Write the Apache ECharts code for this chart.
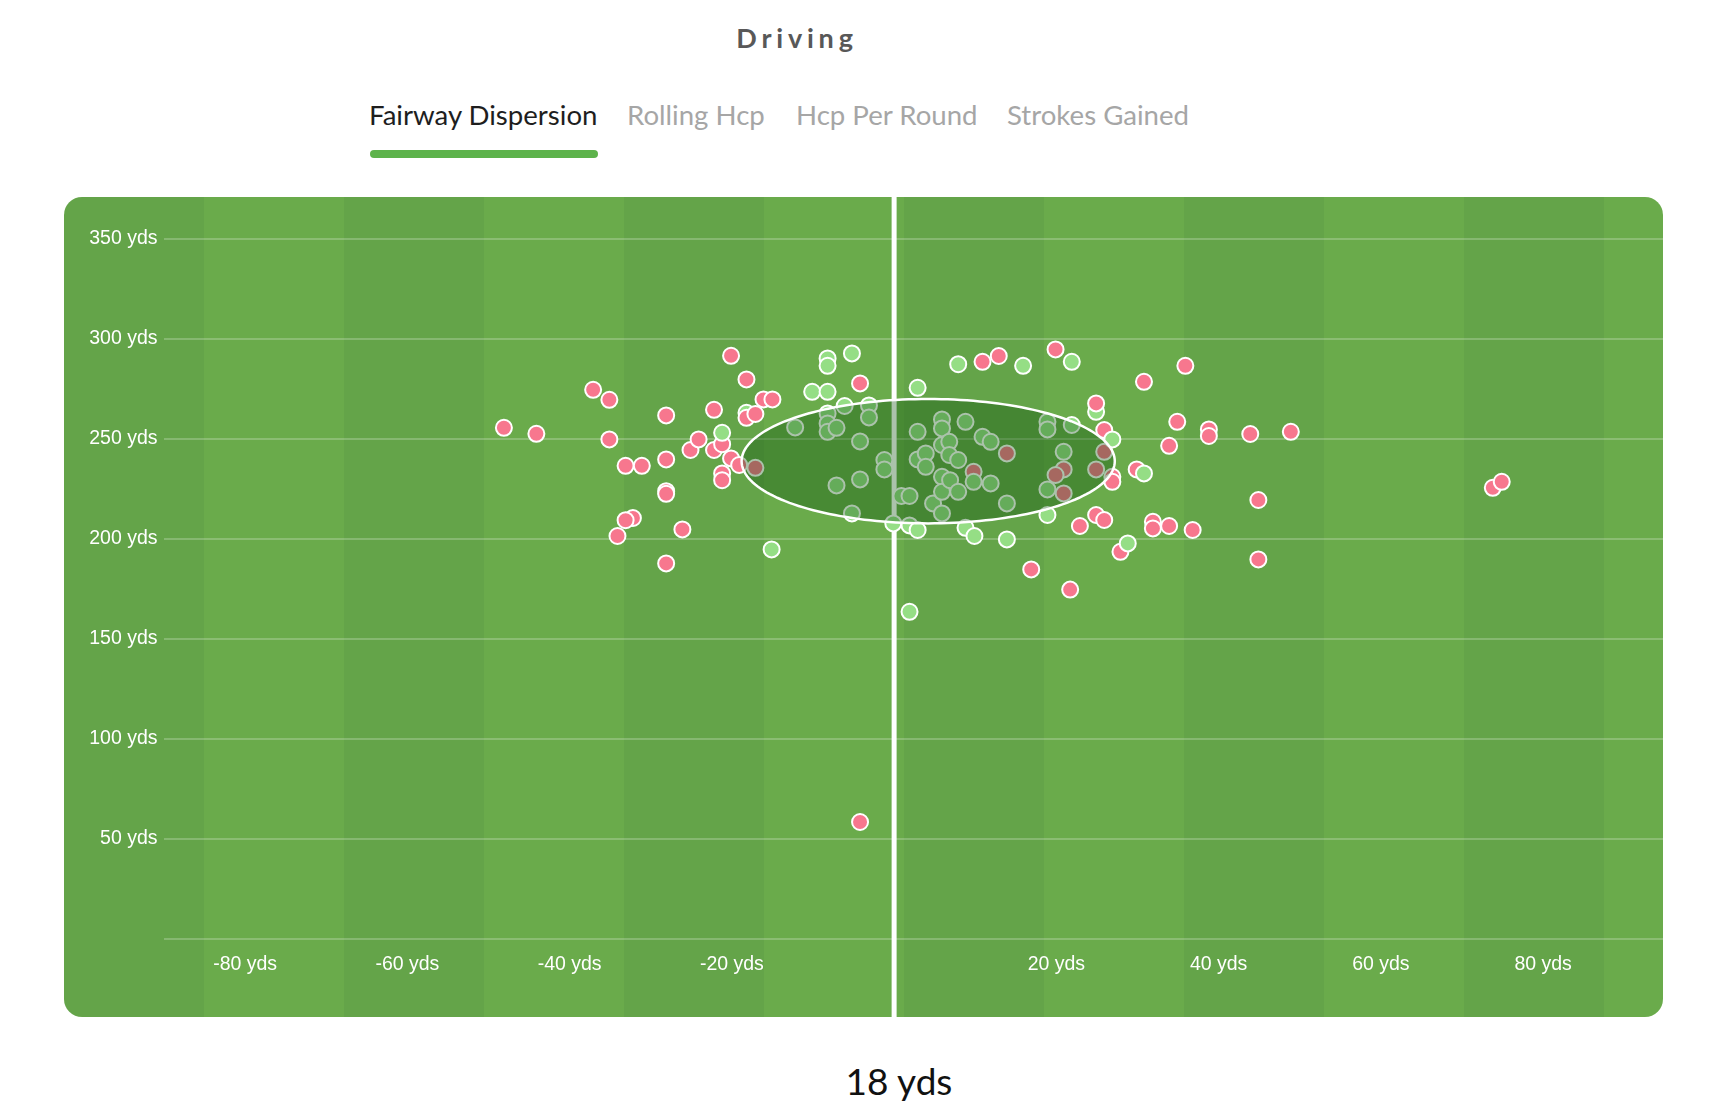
<!DOCTYPE html>
<html>
<head>
<meta charset="utf-8">
<script src="https://cdn.jsdelivr.net/npm/echarts@6/dist/echarts.min.js"></script>
<style>
  html, body { margin:0; padding:0; background:#fff; width:1730px; height:1120px; overflow:hidden; }
  .txt { position:absolute; white-space:nowrap; font-family:Lato, "Noto Sans", sans-serif; line-height:1; }
  #title { left:797px; top:23.5px; transform:translateX(-50%); font-size:27px; font-weight:700; color:#585858; letter-spacing:4.8px; }
  .tab { top:100.6px; font-size:27.6px; color:#a6a6a6; }
  #tab0 { left:369px; color:#1e1e1e; }
  #tab1 { left:627px; }
  #tab2 { left:796px; }
  #tab3 { left:1007px; }
  #underline { position:absolute; left:370px; top:150px; width:228px; height:8px; border-radius:4px; background:#5db34b; }
  #card { position:absolute; left:64px; top:197px; width:1599px; height:820px; border-radius:18px;
    background:repeating-linear-gradient(90deg, #64a449 0px, #64a449 140px, #6aab4b 140px, #6aab4b 280px); }
  #summary { left:899px; top:1062px; transform:translateX(-50%); font-size:37px; color:#111; }
  #chart { position:absolute; left:0; top:0; width:1730px; height:1120px; }
</style>
</head>
<body>
<div id="title" class="txt">Driving</div>
<div id="tab0" class="txt tab">Fairway Dispersion</div>
<div id="tab1" class="txt tab">Rolling Hcp</div>
<div id="tab2" class="txt tab">Hcp Per Round</div>
<div id="tab3" class="txt tab">Strokes Gained</div>
<div id="underline"></div>
<div id="card"></div>
<div id="summary" class="txt">18 yds</div>
<div id="chart"></div>
<script>
// Tick labels
const xTicks = [-80, -60, -40, -20, 20, 40, 60, 80];
const yTicks = [50, 100, 150, 200, 250, 300, 350];

// Shots that missed the fairway: [lateral yds, distance yds]
const missedShots = [
  [-48.1,255.6],[-44.1,252.6],[-37.1,274.6],[-35.1,269.6],[-35.1,249.8],[-33.1,236.6],[-31.1,236.6],
  [-32.2,210.5],[-33.1,209.4],[-34.1,201.5],[-28.1,261.8],[-28.1,239.8],[-28.1,223.9],[-28.1,222.6],
  [-28.1,187.8],[-26.1,204.8],[-25.1,244.5],[-24.1,249.8],[-22.2,264.6],[-22.2,244.5],[-21.2,247.4],
  [-21.2,232.8],[-21.2,229.4],[-20.1,291.6],[-20.1,240.3],[-19.1,237.0],[-18.2,279.8],
  [-17.1,235.6],[-16.1,269.8],[-15.0,269.8],[-4.2,277.8],[-4.2,58.5],[10.9,288.6],[12.9,291.5],
  [13.9,242.8],[9.8,233.6],[16.9,184.8],[19.9,294.8],[20.9,234.8],[19.9,232.0],[20.9,222.8],
  [21.7,174.7],[22.9,206.5],[24.9,234.8],[24.9,212.0],[25.9,254.5],[25.9,243.6],
  [25.9,209.5],[26.9,231.1],[26.9,228.6],[27.9,193.6],[29.9,234.8],[30.8,278.6],[31.9,208.6],
  [31.9,205.3],[33.9,246.6],[33.9,206.5],[34.9,258.6],[35.9,286.6],[36.8,204.5],[38.8,254.8],
  [38.8,251.5],[43.9,252.5],[44.9,219.5],[44.9,189.8],[48.9,253.6],[73.8,225.6],[74.9,228.6]
];

// Shots that found the fairway
const fairwayShots = [
  [-21.2,253.1],[-18.2,263.1],[-15.1,194.8],[-12.2,255.8],[-10.1,273.6],[-8.2,290.3],[-8.2,286.6],
  [-8.2,273.6],[-8.2,262.8],[-8.2,257.8],[-8.2,253.6],[-7.1,255.6],[-7.1,226.8],[-6.1,266.5],
  [-5.2,292.8],[-5.2,212.8],[-4.2,248.8],[-4.2,229.8],[-3.1,266.8],[-3.1,260.8],[-1.2,239.5],
  [-1.2,234.8],[-0.1,207.8],[0.9,221.5],[1.9,221.5],[1.9,206.8],[2.9,204.5],[1.9,163.6],
  [2.9,275.6],[2.9,253.6],[2.9,239.8],[3.9,242.8],[3.9,236.1],[4.8,217.8],[5.9,259.8],
  [5.9,255.3],[5.9,247.0],[5.9,231.1],[5.9,223.6],[5.9,212.8],[6.8,248.6],[6.8,242.0],
  [6.9,229.4],[7.9,287.4],[7.9,239.5],[7.9,223.6],[8.8,258.6],[8.8,205.6],[9.8,228.6],
  [9.9,201.5],[10.9,251.1],[11.9,248.6],[11.9,227.8],[13.9,217.8],[13.9,199.8],[15.9,286.6],
  [18.9,258.6],[18.9,254.8],[18.9,224.8],[18.9,212.0],[20.9,243.6],[21.9,288.6],[21.9,257.0],
  [24.9,263.6],[26.9,249.8],[28.8,197.8],[30.8,232.8]
];

// Missed shots drawn above neighbouring fairway shots
const missedOnTop = [[-18.2,260.6],[-17.1,262.5],[24.9,267.8]];

// Dispersion ellipse: centre [lateral, distance], radii [lateral, distance]
const dispersionCenter = [4.2, 238.9];
const dispersionRadius = [23.0, 31.1];

// Fairway centre line: [lateral, from distance, to distance] (runs the full card height)
const centerLine = [[0, -40, 371]];

const chart = echarts.init(document.getElementById('chart'), null, { renderer: 'canvas' });

const axisFont = 'Liberation Sans, Arial, Helvetica, sans-serif';
const pink = '#f7778e';
const green = '#95de85';
const dotSize = 16;

chart.setOption({
  animation: false,
  grid: { left: 164, right: 65.2, top: 197, bottom: 181, containLabel: false },
  xAxis: {
    type: 'value', min: -90, max: 95, interval: 10, position: 'bottom',
    axisLine: { show: false, onZero: false },
    axisTick: { show: false },
    splitLine: { show: false },
    axisLabel: {
      interval: 0, showMinLabel: true, showMaxLabel: true, hideOverlap: false,
      formatter: v => (xTicks.indexOf(v) >= 0 ? v + ' yds' : ''),
      color: '#fff', fontSize: 19.5, margin: 16, fontFamily: axisFont
    }
  },
  yAxis: {
    type: 'value', min: 0, max: 371, interval: 50,
    axisLine: { show: false, onZero: false },
    axisTick: { show: false },
    axisLabel: {
      formatter: v => (yTicks.indexOf(v) >= 0 ? v + ' yds' : ''),
      color: '#fff', fontSize: 19.5, margin: 6.5, fontFamily: axisFont
    },
    splitLine: {
      show: true, showMinLine: true, showMaxLine: false,
      lineStyle: { color: 'rgba(255,255,255,0.3)', width: 1.5 }
    }
  },
  series: [
    {
      type: 'custom', name: 'centre', z: 1, silent: true, clip: false,
      data: centerLine,
      renderItem: function (params, api) {
        const top = api.coord([api.value(0), api.value(2)]);
        const bottom = api.coord([api.value(0), api.value(1)]);
        return { type: 'rect', shape: { x: top[0] - 2.5, y: top[1], width: 5, height: bottom[1] - top[1] },
                 style: { fill: '#ffffff' } };
      }
    },
    {
      type: 'scatter', name: 'Missed', z: 2, silent: true,
      data: missedShots, symbolSize: dotSize,
      itemStyle: { color: pink, borderColor: '#fff', borderWidth: 2, opacity: 1 }
    },
    {
      type: 'scatter', name: 'Fairway', z: 3, silent: true,
      data: fairwayShots, symbolSize: dotSize,
      itemStyle: { color: green, borderColor: '#fff', borderWidth: 2, opacity: 1 }
    },
    {
      type: 'scatter', name: 'Missed ', z: 4, silent: true,
      data: missedOnTop, symbolSize: dotSize,
      itemStyle: { color: pink, borderColor: '#fff', borderWidth: 2, opacity: 1 }
    },
    {
      type: 'custom', name: 'dispersion', z: 5, silent: true, clip: false,
      data: [[dispersionCenter[0], dispersionCenter[1], dispersionRadius[0], dispersionRadius[1]]],
      renderItem: function (params, api) {
        const cx = api.value(0), cy = api.value(1), rx = api.value(2), ry = api.value(3);
        const pts = [];
        const n = 180;
        for (let i = 0; i < n; i++) {
          const t = i / n * Math.PI * 2;
          pts.push(api.coord([cx + rx * Math.cos(t), cy + ry * Math.sin(t)]));
        }
        return { type: 'polygon', shape: { points: pts },
                 style: { fill: 'rgba(10,75,10,0.34)', stroke: '#ffffff', lineWidth: 2.5 } };
      }
    }
  ]
});
</script>
</body>
</html>
